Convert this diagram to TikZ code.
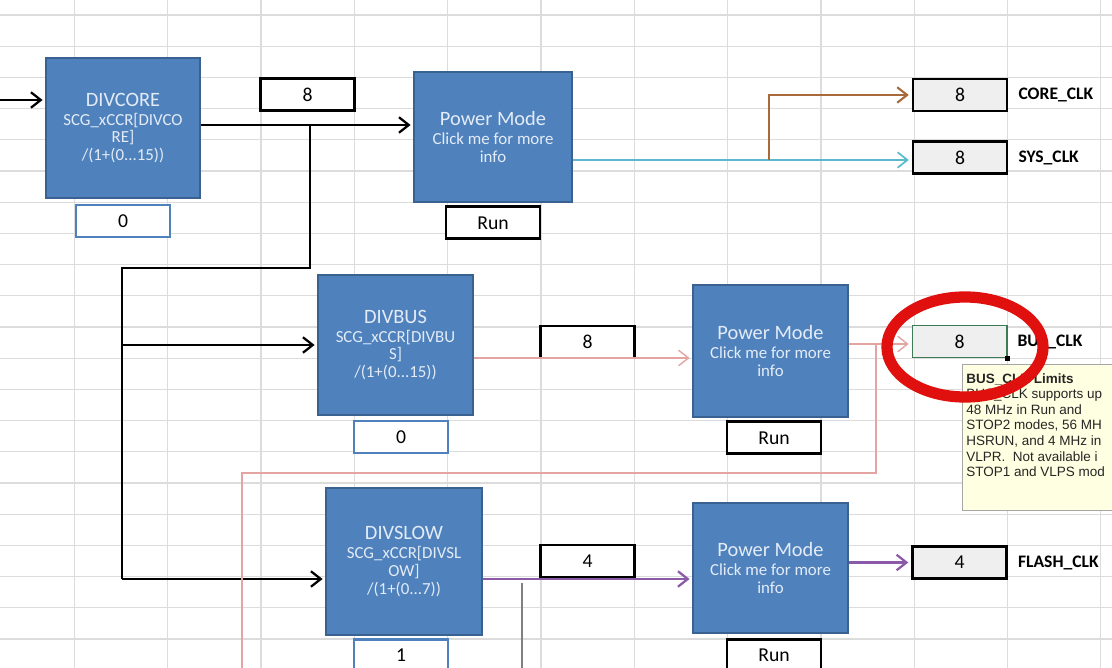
\documentclass[tikz,border=0pt]{standalone}
\usepackage{fontspec}
\setmainfont{Carlito}
\newfontfamily\tipfont{Liberation Sans}
\usepackage{tikz}
\usetikzlibrary{positioning,arrows.meta}
\definecolor{xlblue}{HTML}{4F81BD}
\definecolor{xlblueD}{HTML}{3A6291}
\definecolor{xltext}{HTML}{E3ECF6}
\definecolor{gridgray}{HTML}{DCDCDC}
\definecolor{tealw}{HTML}{5BB8CF}
\definecolor{brownw}{HTML}{A86A3A}
\definecolor{pinkw}{HTML}{E3A4A2}
\definecolor{purplew}{HTML}{8A5AA8}
\definecolor{cellgray}{HTML}{EFEFEF}
\definecolor{selgreen}{HTML}{3E7A55}
\definecolor{tipyellow}{HTML}{FFFFE1}
\definecolor{circred}{HTML}{E0100F}
\newcommand{\blkhead}[1]{{\fontsize{14.5}{17}\selectfont #1}\\[1pt]}

\begin{document}
\begin{tikzpicture}[
  x=0.025cm, y=-0.025cm,
  node distance=3pt,
  blk/.style={draw=xlblueD, fill=xlblue, line width=0.8pt, text=xltext, align=center, inner sep=2pt, font=\fontsize{12}{12.5}\selectfont},
  valbox/.style={draw, line width=2pt, fill=white, minimum width=2.35cm, minimum height=0.8cm, inner sep=0pt, font=\fontsize{14}{14}\selectfont},
  cfgbox/.style={valbox, draw=xlblue, line width=1.6pt},
  outbox/.style={valbox, fill=cellgray},
  clk/.style={right=7pt, inner sep=0pt, font=\bfseries\fontsize{12.5}{13}\selectfont},
  gridline/.style={gridgray, line width=0.9pt},
  wire/.style={line width=1.6pt},
  arr/.style={wire, -{Straight Barb[length=7pt, width=11pt]}, shorten >=2pt}
]
\useasboundingbox (0,0) rectangle (1112,668);

% spreadsheet grid
\foreach \gx in {0,...,11}
  \draw[gridline] ({74.5+93.3*\gx},0) -- ({74.5+93.3*\gx},668);
\foreach \gy in {0,...,21}
  \draw[gridline] (0,{15+31.2*\gy}) -- (1112,{15+31.2*\gy});

% divider blocks
\node[blk, minimum width=3.85cm, minimum height=3.5cm] (divcore) at (123,128) {\blkhead{DIVCORE}SCG\_xCCR[DIVCO\\RE]\\/(1+(0...15))};
\node[cfgbox, below=4pt of divcore] (dcval) {0};
\node[valbox] (dcout) at (307.5,94.5) {8};
\node[blk, minimum width=3.875cm, minimum height=3.5cm] (divbus) at (395.5,345) {\blkhead{DIVBUS}SCG\_xCCR[DIVBU\\S]\\/(1+(0...15))};
\node[cfgbox, below=3pt of divbus, xshift=4pt] (dbval) {0};
\node[valbox] (dbout) at (587.5,342) {8};
\node[blk, minimum width=3.9cm, minimum height=3.675cm] (divslow) at (404,561.5) {\blkhead{DIVSLOW}SCG\_xCCR[DIVSL\\OW]\\/(1+(0...7))};
\node[cfgbox, below=2pt of divslow, xshift=-2pt] (dsval) {1};
\node[valbox] (dsout) at (587.5,561) {4};

% power mode blocks
\node[blk, minimum width=3.95cm, minimum height=3.25cm] (pm1) at (493,137) {\blkhead{Power Mode}Click me for more\\info};
\node[valbox, below=2pt of pm1] (run1) {Run};
\node[blk, minimum width=3.875cm, minimum height=3.3cm] (pm2) at (770.5,351) {\blkhead{Power Mode}Click me for more\\info};
\node[valbox, below=2pt of pm2, xshift=2.5pt] (run2) {Run};
\node[blk, minimum width=3.875cm, minimum height=3.25cm] (pm3) at (770.5,568) {\blkhead{Power Mode}Click me for more\\info};
\node[valbox, below=3pt of pm3, xshift=2.5pt] (run3) {Run};

% clock outputs
\node[outbox] (coreclk) at (960,95) {8};
\node[clk] (corelbl) at (coreclk.east) {CORE\_CLK};
\node[outbox] (sysclk) at (960,157.5) {8};
\node[clk] (syslbl) at (sysclk.east) {SYS\_CLK};
\node[outbox, draw=selgreen, line width=1.4pt] (busclk) at (959.5,341.5) {8};
\node[clk] (buslbl) at (busclk.east) {BUS\_CLK};
\node[fill=black, minimum size=3pt, inner sep=0pt] (handle) at (busclk.south east) {};
\node[outbox] (flashclk) at (959.5,562.5) {4};
\node[clk] (flashlbl) at (flashclk.east) {FLASH\_CLK};

% wiring points
\coordinate (src) at (0,100);
\coordinate (tap) at (310,125);
\coordinate (trunk) at (122,268);
\coordinate (busin) at (122,345);
\coordinate (slowin) at (122,579);
\coordinate (split) at (769,160);
\coordinate (busline) at (500,358);
\coordinate (loop) at (876,344);
\coordinate (loopturn) at (242,473);
\coordinate (loopend) at (242,668);
\coordinate (stub) at (522,583);
\coordinate (stubend) at (522,668);

\draw[arr] (src) -- (src -| divcore.west);
\draw[arr] (divcore.east |- tap) -- (pm1.west |- tap);
\draw[wire] (tap) |- (trunk) -- (slowin);
\draw[arr] (slowin) -- (slowin -| divslow.west);
\draw[arr] (busin) -- (divbus.west);
\draw[arr, tealw, line width=1.2pt] (pm1.east |- split) -- (split -| sysclk.west);
\draw[arr, brownw, line width=1.5pt] (split) |- (coreclk.west);
\draw[arr, pinkw, line width=1pt] (divbus.east |- busline) -- (pm2.west |- busline);
\draw[arr, pinkw, line width=1pt] (pm2.east |- loop) -- (loop -| busclk.west);
\draw[pinkw, line width=1pt] (loop) |- (loopturn) -- (loopend);
\draw[arr, purplew] (divslow.east |- slowin) -- (pm3.west |- slowin);
\draw[arr, purplew] (pm3.east |- flashclk) -- (flashclk.west);
\draw[gray, line width=1pt] (stub) -- (stubend);

% comment pop-up
\node[draw=gray!70, fill=tipyellow, anchor=north west, minimum width=3.85cm, minimum height=3.65cm] (tip) at (962,364) {};
\node[anchor=north west, align=left, inner sep=0pt, text=black!85, font=\tipfont\fontsize{9.6}{11.1}\selectfont] (tiptxt) at (966,373)
  {\textbf{BUS\_CLK Limits}\\BUS\_CLK supports up\\48 MHz in Run and\\STOP2 modes, 56 MH\\HSRUN, and 4 MHz in\\VLPR.\ \ Not available i\\STOP1 and VLPS mod};

% highlight
\draw[circred, line width=8pt] (965,347) ellipse [x radius=1.95cm, y radius=1.25cm];
\end{tikzpicture}
\end{document}
